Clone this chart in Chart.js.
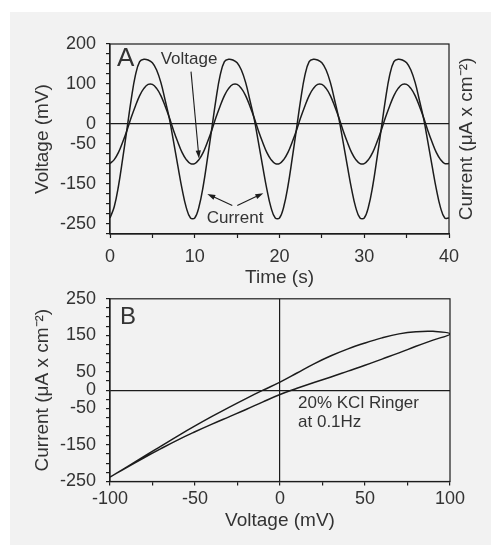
<!DOCTYPE html>
<html lang="en">
<head>
<meta charset="UTF-8">
<title>Voltage and current, 20% KCl Ringer at 0.1Hz</title>
<script src="https://cdn.jsdelivr.net/npm/chart.js"></script>
<style>
  body { margin: 0; background: #fff; }
  .panel { position: absolute; left: 10px; top: 12px; width: 481px; height: 533px; background: #f2f2f2; }
  canvas { position: absolute; left: 0; }
  #chart-a { top: 0; }
  #chart-b { top: 278px; }
</style>
</head>
<body>
<div class="panel"></div>
<canvas id="chart-a" width="491" height="290"></canvas>
<canvas id="chart-b" width="491" height="269"></canvas>

<script>
// Panel A: time course (s), voltage (mV) and current (uA/cm2)
const times = [
  0, 0.5, 1, 1.5, 2, 2.5, 3, 3.5, 4, 4.5, 5, 5.5, 6, 6.5, 7, 7.5, 8, 8.5, 9, 9.5,
  10, 10.5, 11, 11.5, 12, 12.5, 13, 13.5, 14, 14.5, 15, 15.5, 16, 16.5, 17, 17.5, 18, 18.5, 19, 19.5,
  20, 20.5, 21, 21.5, 22, 22.5, 23, 23.5, 24, 24.5, 25, 25.5, 26, 26.5, 27, 27.5, 28, 28.5, 29, 29.5,
  30, 30.5, 31, 31.5, 32, 32.5, 33, 33.5, 34, 34.5, 35, 35.5, 36, 36.5, 37, 37.5, 38, 38.5, 39, 39.5,
  40
];
const voltage = [
  -99, -89, -71, -45, -16, 16, 45, 71, 89, 99, 99, 89, 71, 45, 16, -16, -45, -71, -89, -99,
  -99, -89, -71, -45, -16, 16, 45, 71, 89, 99, 99, 89, 71, 45, 16, -16, -45, -71, -89, -99,
  -99, -89, -71, -45, -16, 16, 45, 71, 89, 99, 99, 89, 71, 45, 16, -16, -45, -71, -89, -99,
  -99, -89, -71, -45, -16, 16, 45, 71, 89, 99, 99, 89, 71, 45, 16, -16, -45, -71, -89, -99,
  -99
];
const current = [
  -235, -207, -155, -86, -13, 61, 122, 156, 162, 160, 153, 135, 104, 60, 14, -44, -104, -162, -209, -235,
  -235, -207, -155, -86, -13, 61, 122, 156, 162, 160, 153, 135, 104, 60, 14, -44, -104, -162, -209, -235,
  -235, -207, -155, -86, -13, 61, 122, 156, 162, 160, 153, 135, 104, 60, 14, -44, -104, -162, -209, -235,
  -235, -207, -155, -86, -13, 61, 122, 156, 162, 160, 153, 135, 104, 60, 14, -44, -104, -162, -209, -235,
  -235
];

// Panel B: one cycle of the current-voltage loop
const loopVoltage = [
  -100, -90, -80, -70, -60, -50, -40, -30, -20, -10, 0, 10, 20, 30, 40, 50, 60, 70, 80, 90, 100,
  90, 80, 70, 60, 50, 40, 30, 20, 10, 0, -10, -20, -30, -40, -50, -60, -70, -80, -90, -100
];
const loopCurrent = [
  -238, -210, -181, -153, -125, -98, -72, -47, -23, 0, 22, 47, 72, 94, 113, 129, 143, 154, 160, 161, 154,
  137, 120, 102, 85, 68, 52, 36, 21, 5, -12, -32, -53, -73, -93, -114, -136, -160, -185, -211, -238
];

// Tick labels that are printed (the other ticks stay bare)
const aTimeLabels = [0, 10, 20, 30, 40];
const aVoltageLabels = [200, 100, 0, -50, -150, -250];
const bVoltageLabels = [-100, -50, 0, 50, 100];
const bCurrentLabels = [250, 150, 50, 0, -50, -150, -250];

const INK = '#1c1c1c';
const TEXT = '#333';
const FONT = '"Liberation Sans", Arial, sans-serif';
const CURRENT_TITLE = 'Current (\u03bcA x cm\u207b\u00b2)';

Chart.defaults.font.family = FONT;
Chart.defaults.color = TEXT;

function toPoints(xs, ys) {
  return xs.map((x, i) => ({ x: x, y: ys[i] }));
}

function onlyLabels(list) {
  return v => (list.includes(v) ? String(v) : '');
}

function zeroLine(ctx) {
  return ctx.tick && ctx.tick.value === 0 ? INK : 'rgba(0,0,0,0)';
}

function drawArrow(ctx, x1, y1, x2, y2) {
  const ang = Math.atan2(y2 - y1, x2 - x1);
  const len = 8, half = 2.6;
  ctx.beginPath();
  ctx.moveTo(x1, y1);
  ctx.lineTo(x2 - Math.cos(ang) * len * 0.7, y2 - Math.sin(ang) * len * 0.7);
  ctx.stroke();
  ctx.beginPath();
  ctx.moveTo(x2, y2);
  ctx.lineTo(x2 - len * Math.cos(ang) + half * Math.sin(ang), y2 - len * Math.sin(ang) - half * Math.cos(ang));
  ctx.lineTo(x2 - len * Math.cos(ang) - half * Math.sin(ang), y2 - len * Math.sin(ang) + half * Math.cos(ang));
  ctx.closePath();
  ctx.fill();
}

// Box round the plot area
const framePlugin = {
  id: 'frame',
  afterDraw(chart) {
    const { ctx, chartArea: a } = chart;
    ctx.save();
    ctx.strokeStyle = INK;
    ctx.lineWidth = 1.2;
    ctx.strokeRect(a.left, a.top, a.right - a.left, a.bottom - a.top);
    ctx.restore();
  }
};

// Labels and arrows placed in data units
function makeNotes(labels, arrows, sideTitle) {
  return {
    id: 'notes',
    afterDraw(chart) {
      const { ctx, chartArea, scales: { x, y } } = chart;
      ctx.save();
      ctx.fillStyle = TEXT;
      ctx.textBaseline = 'middle';
      labels.forEach(l => {
        ctx.font = l.size + 'px ' + FONT;
        ctx.textAlign = l.align;
        ctx.fillText(l.text, x.getPixelForValue(l.x), y.getPixelForValue(l.y));
      });
      ctx.strokeStyle = INK;
      ctx.fillStyle = INK;
      ctx.lineWidth = 1.1;
      arrows.forEach(a => {
        drawArrow(ctx,
          x.getPixelForValue(a.from[0]), y.getPixelForValue(a.from[1]),
          x.getPixelForValue(a.to[0]), y.getPixelForValue(a.to[1]));
      });
      if (sideTitle) {
        ctx.fillStyle = TEXT;
        ctx.font = '19px ' + FONT;
        ctx.textAlign = 'center';
        ctx.translate(chartArea.right + 18, (chartArea.top + chartArea.bottom) / 2);
        ctx.rotate(-Math.PI / 2);
        ctx.fillText(sideTitle, 0, 0);
      }
      ctx.restore();
    }
  };
}

const lineStyle = { borderColor: INK, borderWidth: 1.5, pointRadius: 0, tension: 0.4, fill: false };

// Panel A
new Chart(document.getElementById('chart-a'), {
  type: 'scatter',
  data: {
    datasets: [
      { label: 'Voltage', data: toPoints(times, voltage), showLine: true, ...lineStyle },
      { label: 'Current', data: toPoints(times, current), showLine: true, ...lineStyle }
    ]
  },
  options: {
    responsive: false,
    animation: false,
    layout: { padding: { top: 44, right: 42, left: 0, bottom: 0 } },
    plugins: { legend: { display: false }, tooltip: { enabled: false } },
    scales: {
      x: {
        type: 'linear', min: 0, max: 40,
        ticks: { stepSize: 5, autoSkip: false, maxRotation: 0, padding: 8, font: { size: 18 }, callback: onlyLabels(aTimeLabels) },
        grid: { drawOnChartArea: false, tickLength: 4, tickColor: INK, tickWidth: 1.2 },
        border: { color: INK, width: 1.2 },
        title: { display: true, text: 'Time (s)', font: { size: 19 }, padding: { top: 0, bottom: 1 } },
        afterFit: s => { s.height = 56; }
      },
      y: {
        type: 'linear', min: -275, max: 200,
        ticks: { stepSize: 25, autoSkip: false, padding: 10, font: { size: 18 }, callback: onlyLabels(aVoltageLabels) },
        grid: { color: zeroLine, lineWidth: 1.2, tickLength: 4, tickColor: INK, tickWidth: 1.2 },
        border: { color: INK, width: 1.2 },
        title: { display: true, text: 'Voltage (mV)', font: { size: 19 }, padding: { top: 31, bottom: 0 } },
        afterFit: s => { s.width = 110; }
      }
    }
  },
  plugins: [framePlugin, makeNotes(
    [
      { text: 'A', x: 0.84, y: 164, size: 26, align: 'left' },
      { text: 'Voltage', x: 9.32, y: 161, size: 17, align: 'center' },
      { text: 'Current', x: 14.75, y: -236, size: 17, align: 'center' }
    ],
    [
      { from: [9.56, 131], to: [10.5, -86] },
      { from: [14.43, -204], to: [11.48, -175] },
      { from: [15.02, -204], to: [18.09, -173] }
    ],
    CURRENT_TITLE
  )]
});

// Panel B
new Chart(document.getElementById('chart-b'), {
  type: 'scatter',
  data: {
    datasets: [
      { label: 'I-V loop', data: toPoints(loopVoltage, loopCurrent), showLine: true, ...lineStyle }
    ]
  },
  options: {
    responsive: false,
    animation: false,
    layout: { padding: { top: 15, right: 41, left: 0, bottom: 0 } },
    plugins: { legend: { display: false }, tooltip: { enabled: false } },
    scales: {
      x: {
        type: 'linear', min: -100, max: 100,
        ticks: { stepSize: 25, autoSkip: false, maxRotation: 0, padding: 3, font: { size: 18 }, callback: onlyLabels(bVoltageLabels) },
        grid: { color: zeroLine, lineWidth: 1.2, tickLength: 4, tickColor: INK, tickWidth: 1.2 },
        border: { color: INK, width: 1.2 },
        title: { display: true, text: 'Voltage (mV)', font: { size: 19 }, padding: { top: 0, bottom: 15 } },
        afterFit: s => { s.height = 65.5; }
      },
      y: {
        type: 'linear', min: -250, max: 250,
        ticks: { stepSize: 25, autoSkip: false, padding: 10, font: { size: 18 }, callback: onlyLabels(bCurrentLabels) },
        grid: { color: zeroLine, lineWidth: 1.2, tickLength: 4, tickColor: INK, tickWidth: 1.2 },
        border: { color: INK, width: 1.2 },
        title: { display: true, text: CURRENT_TITLE, font: { size: 19 }, padding: { top: 31, bottom: 0 } },
        afterFit: s => { s.width = 110; }
      }
    }
  },
  plugins: [framePlugin, makeNotes(
    [
      { text: 'B', x: -94.1, y: 198, size: 24, align: 'left' },
      { text: '20% KCl Ringer', x: 10.6, y: -37, size: 17, align: 'left' },
      { text: 'at 0.1Hz', x: 10.6, y: -88, size: 17, align: 'left' }
    ],
    [],
    null
  )]
});
</script>
</body>
</html>
